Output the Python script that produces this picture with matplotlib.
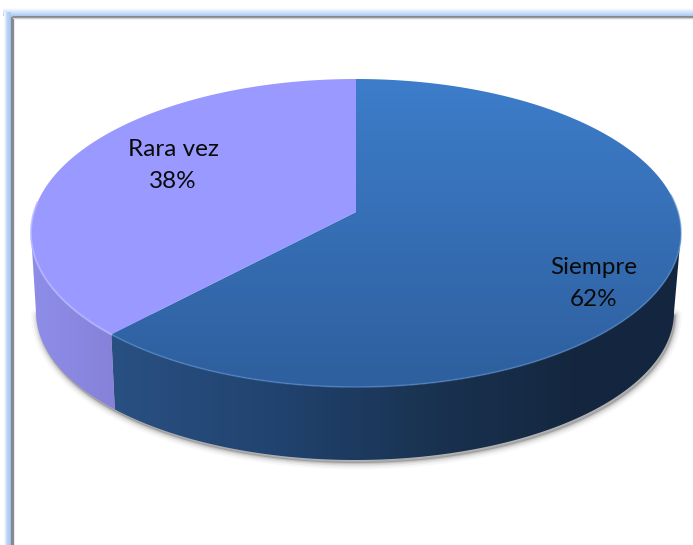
import numpy as np
import matplotlib
matplotlib.use("Agg")
import matplotlib.pyplot as plt
from matplotlib.patches import Polygon
from matplotlib.colors import LinearSegmentedColormap as LSC

labels = ["Siempre", "Rara vez"]
shares = [62, 38]

plt.rcParams["font.family"] = ["Lato", "DejaVu Sans"]

fig = plt.figure(figsize=(6.93, 5.45), dpi=100)
ax = fig.add_axes([0, 0, 1, 1])
ax.axis("off")


def gradient(colors, extent, clip=None, horizontal=False, z=1, stops=None):
    cm = LSC.from_list("g", colors if stops is None else list(zip(stops, colors)))
    arr = np.linspace(0, 1, 256)
    arr = arr.reshape(1, -1) if horizontal else arr.reshape(-1, 1)
    im = ax.imshow(arr, cmap=cm, extent=extent, aspect="auto", origin="upper",
                   interpolation="bilinear", zorder=z)
    if clip is not None:
        im.set_clip_path(Polygon(clip, transform=ax.transData))
    return im


# perspective view of the pie's upper disc
CX, APEX, TOP_Y, BOT_Y, RX = 356.0, 212.0, 79.0, 387.0, 325.0
c = (2 * APEX - TOP_Y - BOT_Y) / (TOP_Y - BOT_Y)
a = TOP_Y * (1 + c) - APEX
R = RX * np.sqrt(1 - c ** 2)
MID_Y = (TOP_Y + BOT_Y) / 2


def top_rim(theta):
    u, v = np.sin(theta), np.cos(theta)
    w = 1 + c * v
    return CX + R * u / w, (a * v + APEX) / w


def bottom_rim(theta):
    x, y = top_rim(theta)
    return 355 + (x - CX) * 319 / RX, 312 + (y - MID_Y) * 148 / 154


def ribbon(t0, t1):
    t = np.linspace(t0, t1, 200)
    xt, yt = top_rim(t)
    xb, yb = bottom_rim(t)
    return np.column_stack([np.r_[xt, xb[::-1]], np.r_[yt, yb[::-1]]])


def face(t0, t1):
    t = np.linspace(t0, t1, 300)
    x, y = top_rim(t)
    return np.column_stack([np.r_[CX, x], np.r_[APEX, y]])


edges = np.cumsum([0] + shares) / sum(shares) * 2 * np.pi
split = edges[1]
right_t = np.pi / 2 + np.arcsin(c)
left_t = 2 * np.pi - right_t

# outer glow and frame
gradient(["#FFFFFF", "#A9CAF3"], (3, 700, 16, 8), z=1)
gradient(["#FFFFFF", "#B5D2F6", "#A9CAF3"], (4, 10.5, 560, 12), horizontal=True, z=1.1)
ax.add_patch(plt.Rectangle((13, 18), 690, 540, fc="white", ec="none", zorder=1.2))
ax.plot([11.5, 700], [16.5, 16.5], color="#858A90", lw=2.2, zorder=1.3, solid_capstyle="butt")
ax.plot([11.5, 11.5], [16, 560], color="#858A90", lw=2.4, zorder=1.3, solid_capstyle="butt")
ax.plot([13, 700], [18.4, 18.4], color="#CFCFCF", lw=1, zorder=1.3)

# soft shadow under the body, following the lower rim only
t = np.linspace(right_t, left_t, 200)
sil = np.column_stack(bottom_rim(t)) + np.array([1.5, 3.0])
for lw, al in [(9, 0.05), (6, 0.09), (3.5, 0.14), (1.5, 0.2)]:
    ax.add_patch(Polygon(sil, closed=True, fc="#6E6E6E", ec="#6E6E6E", lw=lw, alpha=al,
                         joinstyle="round", zorder=2))

# side walls
gradient(["#2A5184", "#21436F", "#1A3352", "#14273F", "#14263F"], (100, 690, 470, 230),
         clip=ribbon(right_t, split), horizontal=True, z=3, stops=[0, 0.3, 0.55, 0.8, 1])
gradient(["#8E8EEA", "#8580D6"], (25, 130, 470, 230),
         clip=ribbon(split, left_t), horizontal=True, z=3)

# upper faces
gradient(["#3D7DCA", "#2E5F9E"], (0, 693, 387, 79), clip=face(edges[0], split), z=4)
ax.add_patch(Polygon(face(split, edges[2]), closed=True, fc="#9999FF", ec="none", zorder=4))

# light bevel along the front rim
t = np.linspace(right_t - 0.25, split, 200)
ax.plot(*top_rim(t), color="#5B90D2", lw=1.2, alpha=0.55, zorder=5)
t = np.linspace(split, left_t + 0.2, 100)
ax.plot(*top_rim(t), color="#B8B8FF", lw=1.4, alpha=0.8, zorder=5)

for lab, share, (x, y) in zip(labels, shares, [(594, 267), (173, 149)]):
    ax.text(x, y, lab, ha="center", va="center", fontsize=17.5, color="#0A0A0A", zorder=6)
    ax.text(x, y + 32, f"{share}%", ha="center", va="center", fontsize=17.5, color="#0A0A0A", zorder=6)

ax.set_xlim(0, 693)
ax.set_ylim(545, 0)
fig.savefig("out.png", dpi=100)
